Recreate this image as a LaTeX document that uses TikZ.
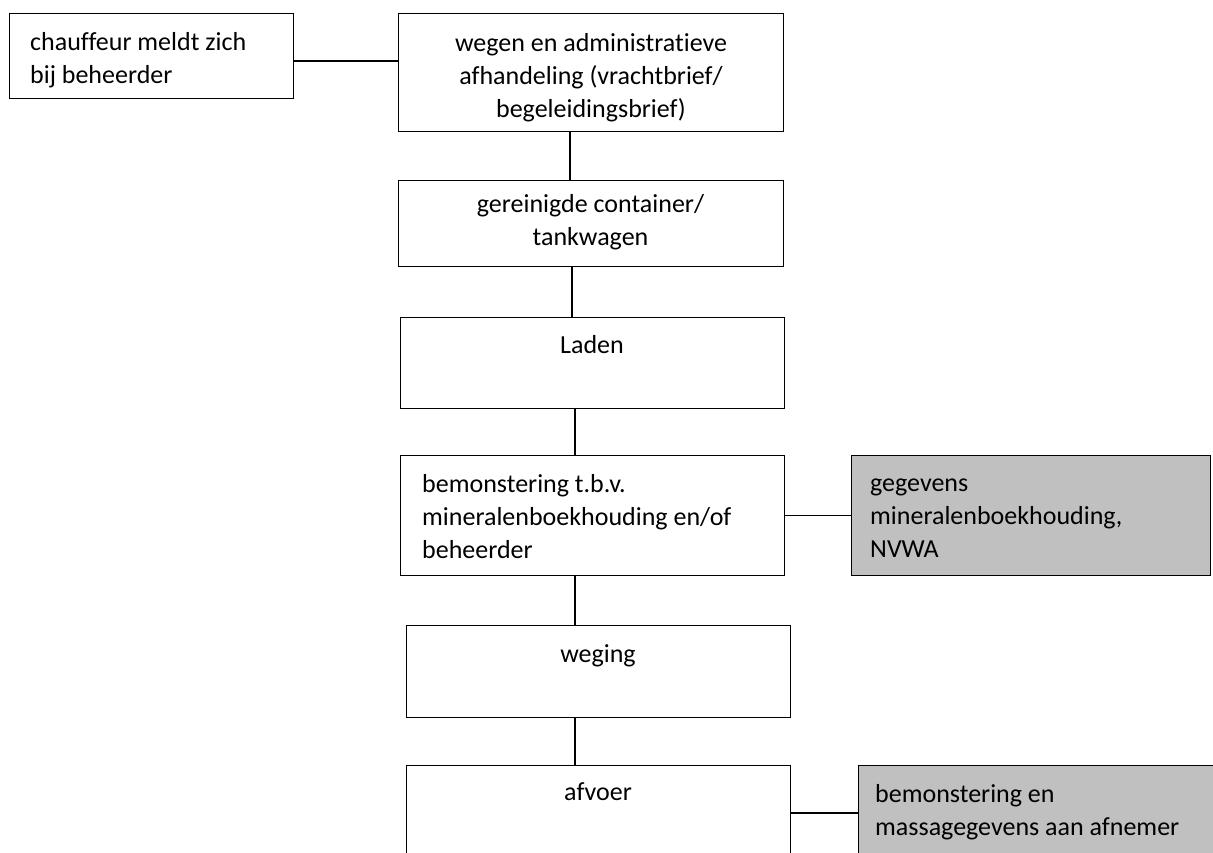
\documentclass[tikz,border=0pt]{standalone}
\usepackage{fontspec}
\setmainfont{Carlito}[Ligatures=NoCommon]
\definecolor{boxgray}{RGB}{192,192,192}
\begin{document}
\begin{tikzpicture}[x=1pt,y=-1pt,
  box/.style={draw=black, line width=1.4pt, fill=white, inner sep=0pt, anchor=north west},
  graybox/.style={box, fill=boxgray},
  txt/.style={inner sep=0pt, font=\fontsize{26}{33}\selectfont},
  link/.style={draw=black, line width=1.4pt}]
\useasboundingbox (0,0) rectangle (1213,852);
\clip (0,0) rectangle (1213,852);
% boxes
\node[box, minimum width=284.5pt, minimum height=85.5pt] (b1) at (8.5,12.5) {};
\node[box, minimum width=385pt, minimum height=118pt] (b2) at (398,12.5) {};
\node[box, minimum width=385pt, minimum height=85.5pt] (b3) at (398,180) {};
\node[box, minimum width=384pt, minimum height=91pt] (b4) at (400,317) {};
\node[box, minimum width=384pt, minimum height=120pt] (b5) at (400,455) {};
\node[graybox, minimum width=359pt, minimum height=120pt] (g1) at (851,455) {};
\node[box, minimum width=384pt, minimum height=92pt] (b6) at (406,625) {};
\node[box, minimum width=384pt, minimum height=120pt] (b7) at (406,765) {};
\node[graybox, minimum width=380pt, minimum height=120pt] (g2) at (858,765) {};
% texts (anchored at the baseline of their last line)
\node[txt, anchor=base west, align=left] (t1) at (30,83) {chauffeur meldt zich\\bij beheerder};
\node[txt, anchor=base, align=center] (t2) at (591,117) {wegen en administratieve\\afhandeling (vrachtbrief/\\begeleidingsbrief)};
\node[txt, anchor=base, align=center] (t3) at (590.5,245) {gereinigde container/\\tankwagen};
\node[txt, anchor=base] (t4) at (592,353) {Laden};
\node[txt, anchor=base west, align=left] (t5) at (422,558) {bemonstering t.b.v.\\mineralenboekhouding en/of\\beheerder};
\node[txt, anchor=base west, align=left] (t6) at (870,557) {gegevens\\mineralenboekhouding,\\NVWA};
\node[txt, anchor=base] (t7) at (598,662) {weging};
\node[txt, anchor=base] (t8) at (598,800) {afvoer};
\node[txt, anchor=base west, align=left] (t9) at (875,835) {bemonstering en\\massagegevens aan afnemer};
% connectors
\draw[link] (b1.east |- 0,61) -- (b2.west |- 0,61);
\draw[link] (b2.south -| 570,0) -- (b3.north -| 570,0);
\draw[link] (b3.south -| 572,0) -- (b4.north -| 572,0);
\draw[link] (b4.south -| 575,0) -- (b5.north -| 575,0);
\draw[link] (b5.east) -- (g1.west);
\draw[link] (b5.south -| 575,0) -- (b6.north -| 575,0);
\draw[link] (b6.south -| 575,0) -- (b7.north -| 575,0);
\draw[link] (b7.east |- 0,813) -- (g2.west |- 0,813);
\end{tikzpicture}
\end{document}
